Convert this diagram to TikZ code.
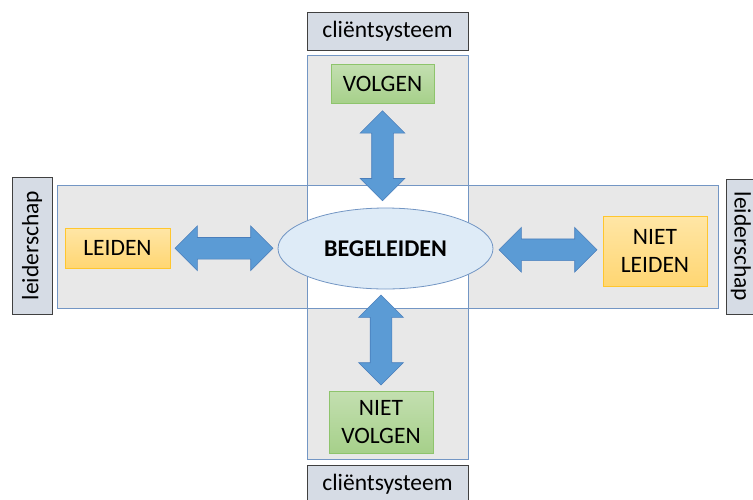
\documentclass[tikz,border=0pt]{standalone}
\usepackage{fontspec}
\setmainfont{Carlito}
\usetikzlibrary{shapes.geometric,shapes.arrows,calc}

\definecolor{panelgrey}{HTML}{E8E8E8}
\definecolor{panelline}{HTML}{7396C4}
\definecolor{tagfill}{HTML}{D6DCE5}
\definecolor{tagline}{HTML}{404040}
\definecolor{ovalfill}{HTML}{DEEBF7}
\definecolor{greentop}{HTML}{C3DFB0}
\definecolor{greenbot}{HTML}{A6D08A}
\definecolor{greenline}{HTML}{8EC46C}
\definecolor{orangetop}{HTML}{FFE6A6}
\definecolor{orangebot}{HTML}{FFD672}
\definecolor{orangeline}{HTML}{FFC62E}
\definecolor{arrowblue}{HTML}{5B9BD5}
\definecolor{arrowline}{HTML}{4A7EBB}

\begin{document}
\begin{tikzpicture}[x=1pt,y=-1pt,
		tag/.style={draw=tagline, fill=tagfill, line width=0.9pt, inner sep=0pt,
			font=\fontsize{23.5}{27}\selectfont},
		greenbox/.style={draw=greenline, top color=greentop, bottom color=greenbot,
			line width=0.8pt, inner sep=0pt, align=center, font=\fontsize{23.5}{28}\selectfont},
		orangebox/.style={draw=orangeline, top color=orangetop, bottom color=orangebot,
			line width=0.8pt, inner sep=0pt, align=center, font=\fontsize{23.5}{28}\selectfont},
		fatarrow/.style={double arrow, draw=arrowline, fill=arrowblue, line width=0.6pt,
			inner xsep=0pt, inner ysep=10.5pt, double arrow head extend=11.5pt,
			double arrow tip angle=90}]
			\useasboundingbox (0,0) rectangle (753,499);
			% the two panels and their white crossing
			\fill[panelgrey] (307,55) rectangle (468,459);
			\fill[panelgrey] (57,185) rectangle (718,308);
			\fill[white] (307,185) rectangle (468,308);
			\draw[panelline, line width=0.8pt] (307,55) rectangle (468,459);
			\draw[panelline, line width=0.8pt] (57,185) rectangle (718,308);
			% side labels
			\node (topcs) [tag, minimum width=161pt, minimum height=38pt] at (387.5,31) {cliëntsysteem};
			\node (botcs) [tag, minimum width=161pt, minimum height=38pt] at (387.5,484) {cliëntsysteem};
			\node (leftls) [tag, rotate=90, minimum width=137pt, minimum height=40pt] at (32,245.5) {leiderschap};
			\node (rightls) [tag, rotate=-90, minimum width=135pt, minimum height=30pt] at (741,246.5) {leiderschap};
			% boxes
			\node (begel) [ellipse, draw=panelline, fill=ovalfill, line width=0.8pt, inner sep=0pt,
				minimum width=215pt, minimum height=81pt, font=\fontsize{24}{28}\selectfont\bfseries]
				at (385.5,248.5) {BEGELEIDEN};
			\node (volgen) [greenbox, minimum width=103pt, minimum height=39pt] at (382.5,84) {VOLGEN};
			\node (nietvolgen) [greenbox, minimum width=104pt, minimum height=62pt] at (381,422) {NIET\\VOLGEN};
			\node (leiden) [orangebox, minimum width=105pt, minimum height=40pt] at (117.5,248) {LEIDEN};
			\node (nietleiden) [orangebox, minimum width=104pt, minimum height=70pt] at (655,251) {NIET\\LEIDEN};
			% arrows
			\node (arrleft) [fatarrow, minimum height=98pt] at ($(leiden.east)!0.5!(begel.west)$) {};
			\node (arrright) [fatarrow, minimum height=98pt] at ($(begel.east)!0.5!(nietleiden.west)$) {};
			\node (arrtop) [fatarrow, rotate=90, minimum height=90pt]
				at ($(volgen.south)!0.5!(volgen.south |- begel.north)$) {};
			\node (arrbot) [fatarrow, rotate=90, minimum height=90pt]
				at ($(nietvolgen.north)!0.5!(nietvolgen.north |- begel.south)$) {};
		\end{tikzpicture}
\end{document}
